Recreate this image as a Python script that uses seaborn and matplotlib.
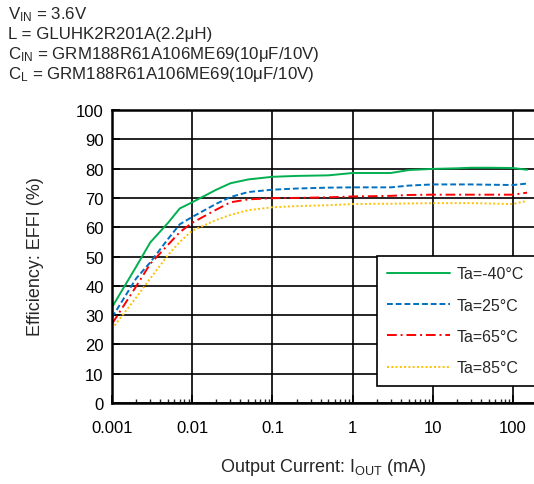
import numpy as np
import pandas as pd
import matplotlib
matplotlib.use("Agg")
import matplotlib.pyplot as plt
import matplotlib.ticker as mticker
import seaborn as sns

# Output current (mA)
current = [0.001, 0.002, 0.003, 0.005, 0.007, 0.01, 0.02, 0.03, 0.05, 0.1, 0.2,
           0.5, 1, 2, 3, 5, 10, 20, 30, 50, 100, 150]

# Efficiency (%) at each ambient temperature
eff_m40 = [32.7, 46.5, 54.8, 61.5, 66.4, 68.5, 72.8, 75.0, 76.3, 77.2, 77.5,
           77.7, 78.5, 78.5, 78.5, 79.5, 79.9, 80.1, 80.3, 80.3, 80.2, 79.6]
eff_25 = [29.2, 42.5, 48.0, 56.0, 61.0, 63.5, 68.0, 70.3, 72.0, 72.8, 73.2,
          73.5, 73.6, 73.6, 73.6, 74.2, 74.6, 74.6, 74.6, 74.5, 74.4, 74.9]
eff_65 = [27.0, 39.8, 47.5, 54.0, 58.3, 61.5, 66.0, 68.5, 69.5, 69.9, 70.0,
          70.2, 70.5, 70.6, 70.7, 71.0, 71.1, 71.1, 71.1, 71.1, 71.1, 71.8]
eff_85 = [25.3, 36.0, 42.5, 50.5, 55.0, 58.8, 62.5, 64.2, 65.8, 66.8, 67.2,
          67.5, 67.9, 68.0, 68.0, 68.1, 68.2, 68.2, 68.2, 68.1, 67.9, 69.0]

series_labels = ["Ta=-40°C", "Ta=25°C", "Ta=65°C", "Ta=85°C"]
y_ticks = [0, 10, 20, 30, 40, 50, 60, 70, 80, 90, 100]
x_ticks = [0.001, 0.01, 0.1, 1, 10, 100]
x_tick_labels = ["0.001", "0.01", "0.1", "1", "10", "100"]

sns.set_style("white")
plt.rcParams["font.family"] = ["Liberation Sans", "DejaVu Sans"]
plt.rcParams["mathtext.fontset"] = "custom"
plt.rcParams["mathtext.rm"] = "Liberation Sans"
plt.rcParams["mathtext.it"] = "Liberation Sans"

frames = []
for lab, vals in zip(series_labels, [eff_m40, eff_25, eff_65, eff_85]):
    frames.append(pd.DataFrame({"I": current, "EFF": vals, "Ta": lab}))
df = pd.concat(frames, ignore_index=True)

colors = ["#00B050", "#0070C0", "#FF0000", "#FFC000"]
styles = ["-", (0, (3, 1.5)), (0, (5, 2, 1, 2)), (0, (1, 1.2))]

W, H = 534, 485
fig = plt.figure(figsize=(W / 100, H / 100), dpi=100)
ax = fig.add_axes([112 / W, 1 - 404 / H, 1 - 112 / W, (404 - 111) / H])

for lab, col, ls in zip(series_labels, colors, styles):
    sub = df[df["Ta"] == lab]
    sns.lineplot(data=sub, x="I", y="EFF", ax=ax, color=col, linestyle=ls,
                 linewidth=1.4, label=lab, estimator=None, sort=False)

ax.set_xscale("log")
ax.set_xlim(0.001, 183)
ax.set_ylim(0, 100)
ax.set_xticks(x_ticks)
ax.set_xticklabels(x_tick_labels)
ax.set_yticks(y_ticks)
ax.xaxis.set_minor_locator(mticker.LogLocator(base=10, subs=np.arange(2, 10)))
ax.xaxis.set_minor_formatter(mticker.NullFormatter())
ax.tick_params(axis="both", which="major", direction="in", length=6, width=1.2,
               labelsize=12, colors="black", left=True, bottom=True)
ax.tick_params(axis="y", which="major", pad=6)
ax.tick_params(axis="x", which="major", pad=12)
ax.tick_params(axis="x", which="minor", direction="in", length=3, width=1.0,
               bottom=True)

ax.grid(True, which="major", color="black", linewidth=1.2)
ax.set_axisbelow(True)
for side in ["left", "bottom", "top"]:
    ax.spines[side].set_color("black")
    ax.spines[side].set_linewidth(1.8)
ax.spines["right"].set_visible(False)

ax.set_xlabel("Output Current: I$_\\mathrm{OUT}$ (mA)", fontsize=13)
ax.xaxis.set_label_coords((323 - 112) / 422, -(467 - 404) / 293)
ax.xaxis.label.set_va("center")
ax.set_ylabel("Efficiency: EFFI (%)", fontsize=13, va="center")
ax.yaxis.set_label_coords((36 - 112) / 422, (404 - 257) / 293)

leg = ax.legend(loc="upper left", bbox_to_anchor=(377 / W, 1 - 257 / H),
                bbox_transform=fig.transFigure, frameon=True, fancybox=False,
                fontsize=11.5, handlelength=3.9, handletextpad=0.45,
                labelspacing=1.02, borderpad=0.65, borderaxespad=0)
leg.get_frame().set_edgecolor("black")
leg.get_frame().set_linewidth(1.2)
leg.get_frame().set_alpha(1)

header = [
    "V$_\\mathrm{IN}$ = 3.6V",
    "L = GLUHK2R201A(2.2μH)",
    "C$_\\mathrm{IN}$ = GRM188R61A106ME69(10μF/10V)",
    "C$_\\mathrm{L}$ = GRM188R61A106ME69(10μF/10V)",
]
for i, line in enumerate(header):
    fig.text(8 / W, 1 - (15 + 19.7 * i) / H, line, fontsize=12.2,
             ha="left", va="center")

fig.savefig("out.png", dpi=100)
